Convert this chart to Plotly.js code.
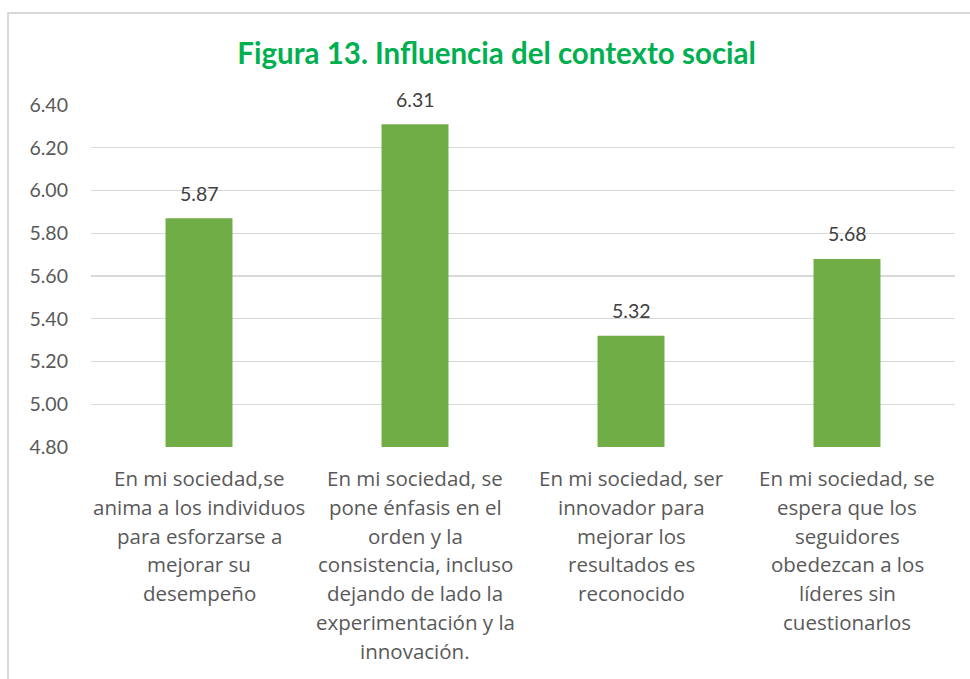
<!DOCTYPE html>
<html>
<head>
<meta charset="utf-8">
<script src="https://cdn.plot.ly/plotly-3.0.1.min.js"></script>
<style>
  html, body { margin: 0; padding: 0; background: #fff; overflow: hidden; width: 970px; height: 679px; }
  #frame { position: absolute; left: 7px; top: 12px; width: 1000px; height: 700px; border: 2px solid #D9D9D9; box-sizing: border-box; }
  #chart { position: absolute; left: 0; top: 0; width: 970px; height: 679px; }
</style>
</head>
<body>
<div id="frame"></div>
<div id="chart"></div>
<script>
// Data
const categoryKeys = ["C1", "C2", "C3", "C4"];
const categoryLabelLines = [
  ["En mi sociedad,se", "anima a los individuos", "para esforzarse a", "mejorar su", "desempeño"],
  ["En mi sociedad, se", "pone énfasis en el", "orden y la", "consistencia, incluso", "dejando de lado la", "experimentación y la", "innovación."],
  ["En mi sociedad, ser", "innovador para", "mejorar los", "resultados es", "reconocido"],
  ["En mi sociedad, se", "espera que los", "seguidores", "obedezcan a los", "líderes sin", "cuestionarlos"]
];
const values = [5.87, 6.31, 5.32, 5.68];
const yTickVals = [4.8, 5.0, 5.2, 5.4, 5.6, 5.8, 6.0, 6.2, 6.4];
const yTickText = ["4.80", "5.00", "5.20", "5.40", "5.60", "5.80", "6.00", "6.20", "6.40"];
const titleText = "Figura 13. Influencia del contexto social";

const NUMFONT = "Lato, 'Open Sans', sans-serif";
const LABELFONT = "'Open Sans', Lato, sans-serif";

const trace = {
  type: "bar",
  x: categoryKeys,
  y: values,
  width: 0.31,
  marker: { color: "#70AD47", line: { width: 0 } },
  hoverinfo: "skip"
};

const annotations = [];
// data labels
values.forEach((v, i) => {
  annotations.push({
    x: categoryKeys[i], y: v, xref: "x", yref: "y",
    text: v.toFixed(2), showarrow: false,
    yanchor: "middle", yshift: 25,
    font: { family: NUMFONT, size: 19.5, color: "#404040" }
  });
});
// category labels, line by line
categoryLabelLines.forEach((lines, i) => {
  lines.forEach((line, j) => {
    annotations.push({
      x: categoryKeys[i], y: 0, xref: "x", yref: "paper",
      text: line, showarrow: false,
      yanchor: "middle", yshift: -(31 + 28.8 * j),
      font: { family: LABELFONT, size: 20.5, color: "#595959" }
    });
  });
});

const layout = {
  width: 970, height: 679,
  margin: { l: 91, r: 15, t: 105, b: 232, pad: 0 },
  paper_bgcolor: "rgba(0,0,0,0)",
  plot_bgcolor: "rgba(0,0,0,0)",
  showlegend: false,
  title: {
    text: "<b>" + titleText + "</b>",
    font: { family: "Lato, sans-serif", size: 29.5, color: "#00B050" },
    xref: "container", x: 0.512, xanchor: "center",
    yref: "container", y: 1 - 53.5 / 679, yanchor: "middle"
  },
  xaxis: {
    type: "category",
    showticklabels: false,
    showgrid: false,
    zeroline: false,
    showline: false,
    ticks: ""
  },
  yaxis: {
    range: [4.7999, 6.4001],
    tickvals: yTickVals,
    ticktext: yTickText,
    showgrid: true,
    gridcolor: "#D9D9D9",
    gridwidth: 1.3,
    zeroline: false,
    showline: false,
    ticks: "",
    ticklabelstandoff: 22,
    tickfont: { family: NUMFONT, size: 19.5, color: "#595959" }
  },
  annotations: annotations
};

Plotly.newPlot("chart", [trace], layout, { staticPlot: true, displayModeBar: false });
</script>
</body>
</html>
